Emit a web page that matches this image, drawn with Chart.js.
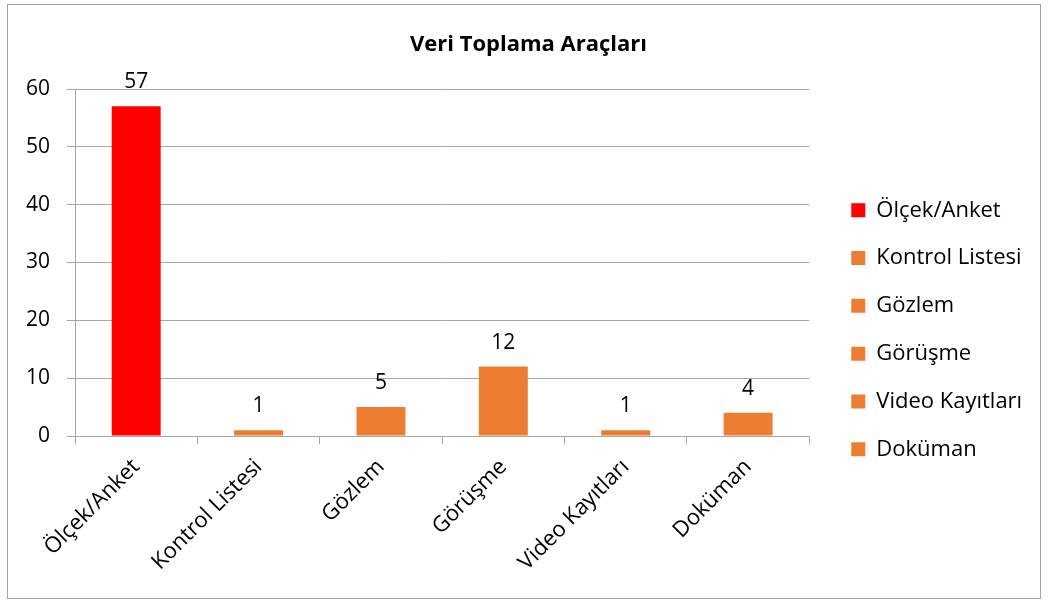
<!DOCTYPE html>
<html>
<head>
<meta charset="utf-8">
<script src="https://cdn.jsdelivr.net/npm/chart.js@4"></script>
<style>
  html, body { margin:0; padding:0; background:#fff; }
  #wrap { position:relative; width:1048px; height:601px; }
</style>
</head>
<body>
<div id="wrap"><canvas id="c" width="1048" height="601"></canvas></div>
<script>
// chart data
const categories = ['Ölçek/Anket', 'Kontrol Listesi', 'Gözlem', 'Görüşme', 'Video Kayıtları', 'Doküman'];
const counts = [57, 1, 5, 12, 1, 4];
const barColors = ['#ff0000', '#ed7d31', '#ed7d31', '#ed7d31', '#ed7d31', '#ed7d31'];
const yTicks = [0, 10, 20, 30, 40, 50, 60];

const FONT = '"Open Sans", "Noto Sans", sans-serif';
const gridCol = '#a6a6a6';

// outer frame like the spreadsheet chart object
const framePlugin = {
  id:'frame',
  beforeDraw(chart){
    const ctx = chart.ctx;
    ctx.save();
    ctx.strokeStyle = '#a0a0a0';
    ctx.lineWidth = 1;
    ctx.strokeRect(7.5, 4.5, 1033, 594);
    ctx.restore();
  }
};

// legend gets a fixed width so the plot ends where the original does
const legendWidth = {
  id:'legendWidth',
  beforeLayout(chart){
    const lg = chart.legend;
    if (lg && !lg._fixedW){
      const fit = lg.fit;
      lg.fit = function(){ fit.call(this); this.width = 222.5; };
      lg._fixedW = true;
    }
  }
};

// value labels above each bar
const valueLabels = {
  id:'valueLabels',
  afterDatasetsDraw(chart){
    const ctx = chart.ctx;
    const meta = chart.getDatasetMeta(0);
    ctx.save();
    ctx.font = '21px ' + FONT;
    ctx.fillStyle = '#000';
    ctx.textAlign = 'center';
    ctx.textBaseline = 'alphabetic';
    meta.data.forEach((bar, i) => {
      ctx.fillText(String(counts[i]), bar.x, bar.y - 18);
    });
    ctx.restore();
  }
};

new Chart(document.getElementById('c'), {
  type:'bar',
  data:{
    labels: categories,
    datasets:[{
      label:'Veri Toplama Araçları',
      data: counts,
      backgroundColor: barColors,
      categoryPercentage: 1,
      barPercentage: 0.4
    }]
  },
  options:{
    responsive:false,
    animation:false,
    layout:{ padding:{ top:20, left:9, right:0, bottom:0 } },
    plugins:{
      title:{
        display:true,
        text:'Veri Toplama Araçları',
        color:'#000',
        font:{ family:FONT, size:22, weight:'bold' },
        padding:{ top:12, bottom:30.6 }
      },
      legend:{
        position:'right',
        align:'center',
        title:{ display:true, text:' ', font:{ size:12 }, padding:{ top:12, bottom:12.1 } },
        labels:{
          color:'#000',
          font:{ family:FONT, size:22 },
          boxWidth:14,
          boxHeight:14,
          padding:25.8,
          generateLabels(chart){
            return categories.map((c, i) => ({
              text:c, fillStyle:barColors[i], strokeStyle:barColors[i], fontColor:'#000',
              lineWidth:0, index:i, datasetIndex:0
            }));
          }
        }
      },
      tooltip:{ enabled:false }
    },
    scales:{
      x:{
        grid:{ display:true, drawOnChartArea:false, drawTicks:true, tickLength:8, color:gridCol },
        border:{ color:gridCol },
        ticks:{ color:'#000', font:{ family:FONT, size:22 }, minRotation:45, maxRotation:45, padding:10 },
        afterFit(s){ s.height = 165; }
      },
      y:{
        min:0, max:60,
        afterBuildTicks(s){ s.ticks = yTicks.map(v => ({ value:v })); },
        grid:{ color:gridCol, tickLength:8 },
        border:{ color:gridCol },
        ticks:{ color:'#000', font:{ family:FONT, size:21 }, padding:17 },
        afterFit(s){ s.width = 66; }
      },
      gap:{
        position:'right',
        display:true,
        grid:{ display:false },
        border:{ display:false },
        ticks:{ display:false },
        afterFit(s){ s.width = 16.2; }
      }
    }
  },
  plugins:[framePlugin, legendWidth, valueLabels]
});
</script>
</body>
</html>
